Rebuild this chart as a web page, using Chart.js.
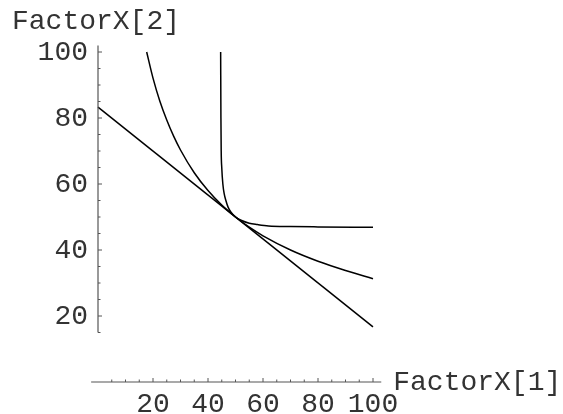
<!DOCTYPE html>
<html>
<head>
<meta charset="utf-8">
<script src="https://cdn.jsdelivr.net/npm/chart.js@4.4.1/dist/chart.umd.min.js"></script>
<style>
  html, body { margin: 0; padding: 0; background: #fff; }
  canvas { display: block; }
</style>
</head>
<body>
<canvas id="chart" width="563" height="414"></canvas>
<script>
// tangent line
const lineX = [0, 100];
const lineY = [83.3, 16.7];

// middle isoquant
const midX = [17.7, 20, 22.5, 25, 27.5, 30, 35, 40, 45, 50, 55, 60, 70, 80, 90, 100];
const midY = [100, 92.1, 85.1, 79.4, 74.5, 70.3, 63.4, 58.0, 53.6, 50, 46.9, 44.3, 40.0, 36.6, 33.8, 31.3];

// sharp-corner isoquant
const cornerX = [44.6, 44.7, 44.8, 45.0, 45.4, 45.9, 46.5, 47.3, 48.3, 50, 52, 55, 58, 62, 70, 80, 100];
const cornerY = [100, 80, 70, 65, 60, 57, 55, 53, 51.5, 50, 49.0, 48.1, 47.7, 47.3, 47.1, 47.0, 46.9];

// axes
const xTickLabels = [20, 40, 60, 80, 100];
const yTickLabels = [20, 40, 60, 80, 100];
const xAxisSpan = [-2.5, 103];
const yAxisSpan = [15, 102];
const xTitle = "FactorX[1]";
const yTitle = "FactorX[2]";

const FONT = '28px "Courier New", "Liberation Mono", monospace';

const toPoints = (xs, ys) => xs.map((x, i) => ({ x: x, y: ys[i] }));

const mmaAxes = {
  id: "mmaAxes",
  afterDraw(chart) {
    const ctx = chart.ctx;
    const sx = chart.scales.x;
    const sy = chart.scales.y;
    const x0 = sx.getPixelForValue(0);
    const y0 = sy.getPixelForValue(0);

    ctx.save();
    ctx.strokeStyle = "#555";
    ctx.lineWidth = 1.2;

    // x axis
    ctx.beginPath();
    ctx.moveTo(sx.getPixelForValue(xAxisSpan[0]), y0);
    ctx.lineTo(sx.getPixelForValue(xAxisSpan[1]), y0);
    ctx.stroke();
    // y axis
    ctx.beginPath();
    ctx.moveTo(x0, sy.getPixelForValue(yAxisSpan[0]));
    ctx.lineTo(x0, sy.getPixelForValue(yAxisSpan[1]));
    ctx.stroke();

    // ticks (every 5, major where labelled)
    ctx.lineWidth = 1;
    for (let v = 5; v <= 100; v += 5) {
      const len = xTickLabels.includes(v) ? 4 : 2.5;
      const px = sx.getPixelForValue(v);
      ctx.beginPath();
      ctx.moveTo(px, y0);
      ctx.lineTo(px, y0 - len);
      ctx.stroke();
    }
    for (let v = 15; v <= 100; v += 5) {
      const len = yTickLabels.includes(v) ? 4 : 2.5;
      const py = sy.getPixelForValue(v);
      ctx.beginPath();
      ctx.moveTo(x0, py);
      ctx.lineTo(x0 + len, py);
      ctx.stroke();
    }

    // labels
    ctx.fillStyle = "#333";
    ctx.font = FONT;
    ctx.textAlign = "center";
    ctx.textBaseline = "alphabetic";
    xTickLabels.forEach((v) => {
      ctx.fillText(String(v), sx.getPixelForValue(v), y0 + 30);
    });
    ctx.textAlign = "right";
    ctx.textBaseline = "middle";
    yTickLabels.forEach((v) => {
      ctx.fillText(String(v), x0 - 10, sy.getPixelForValue(v) + 1);
    });

    // axis titles
    ctx.textAlign = "left";
    ctx.textBaseline = "alphabetic";
    ctx.fillText(xTitle, sx.getPixelForValue(xAxisSpan[1]) + 12, y0 + 8);
    ctx.fillText(yTitle, 12, 29);
    ctx.restore();
  },
};

const ctx = document.getElementById("chart").getContext("2d");
new Chart(ctx, {
  type: "scatter",
  data: {
    datasets: [
      { data: toPoints(lineX, lineY), tension: 0 },
      { data: toPoints(midX, midY), cubicInterpolationMode: "monotone" },
      { data: toPoints(cornerX, cornerY), cubicInterpolationMode: "monotone" },
    ].map((d) => ({
      ...d,
      showLine: true,
      borderColor: "#000",
      borderWidth: 1.5,
      pointRadius: 0,
      fill: false,
      clip: false,
    })),
  },
  options: {
    responsive: false,
    animation: false,
    devicePixelRatio: 1,
    layout: { padding: { left: 98, right: 190, top: 52, bottom: 32 } },
    scales: {
      x: { type: "linear", min: 0, max: 100, display: false },
      y: { type: "linear", min: 0, max: 100, display: false },
    },
    plugins: {
      legend: { display: false },
      tooltip: { enabled: false },
    },
  },
  plugins: [mmaAxes],
});
</script>
</body>
</html>
